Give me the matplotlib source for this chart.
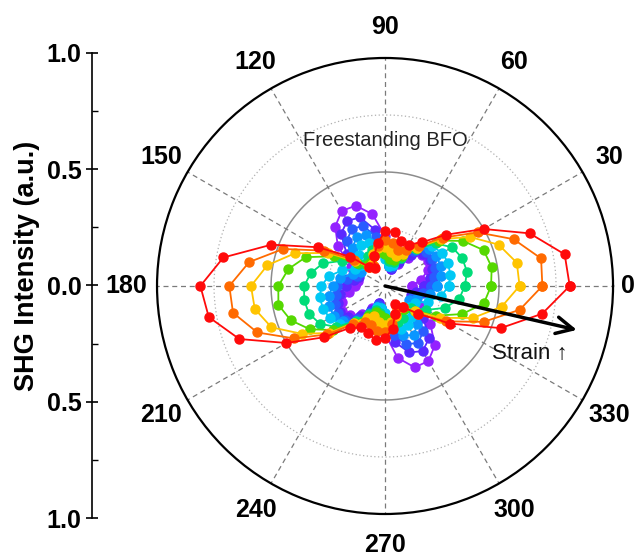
import numpy as np
import matplotlib.pyplot as plt

plt.rcParams['font.family'] = ['Arial', 'Liberation Sans', 'DejaVu Sans']

# polarization angle (deg), one point every 10 deg
phi_deg = np.arange(0, 360, 10)

# normalized SHG intensity, low strain (purple) -> high strain (red)
shg_purple = [0.12, 0.16, 0.20, 0.22, 0.21, 0.16, 0.11, 0.08, 0.12, 0.22, 0.32, 0.375, 0.38, 0.34, 0.27, 0.17, 0.13, 0.12,
              0.13, 0.16, 0.20, 0.22, 0.20, 0.16, 0.11, 0.08, 0.12, 0.21, 0.32, 0.38, 0.38, 0.34, 0.26, 0.17, 0.13, 0.12]
shg_violet = [0.17, 0.20, 0.22, 0.23, 0.22, 0.18, 0.12, 0.08, 0.09, 0.16, 0.25, 0.32, 0.33, 0.30, 0.22, 0.14, 0.12, 0.14,
              0.17, 0.20, 0.22, 0.23, 0.21, 0.17, 0.12, 0.08, 0.10, 0.17, 0.25, 0.31, 0.33, 0.30, 0.22, 0.14, 0.12, 0.14]
shg_blue = [0.20, 0.22, 0.235, 0.24, 0.235, 0.20, 0.14, 0.09, 0.09, 0.14, 0.22, 0.28, 0.29, 0.26, 0.19, 0.13, 0.13, 0.17,
            0.21, 0.22, 0.235, 0.24, 0.23, 0.19, 0.13, 0.09, 0.10, 0.15, 0.22, 0.27, 0.29, 0.26, 0.19, 0.13, 0.13, 0.17]
shg_azure = [0.23, 0.25, 0.26, 0.26, 0.25, 0.21, 0.15, 0.10, 0.09, 0.13, 0.19, 0.24, 0.25, 0.22, 0.16, 0.12, 0.15, 0.20,
             0.23, 0.25, 0.26, 0.26, 0.24, 0.20, 0.14, 0.10, 0.10, 0.13, 0.19, 0.23, 0.25, 0.22, 0.16, 0.12, 0.15, 0.20]
shg_cyan = [0.28, 0.29, 0.295, 0.29, 0.27, 0.22, 0.15, 0.10, 0.09, 0.12, 0.17, 0.20, 0.21, 0.18, 0.14, 0.15, 0.20, 0.25,
            0.28, 0.29, 0.29, 0.28, 0.26, 0.21, 0.15, 0.10, 0.10, 0.12, 0.17, 0.20, 0.20, 0.18, 0.14, 0.15, 0.20, 0.25]
shg_spring = [0.35, 0.365, 0.36, 0.34, 0.29, 0.21, 0.14, 0.11, 0.11, 0.14, 0.16, 0.17, 0.15, 0.13, 0.15, 0.22, 0.29, 0.33,
              0.355, 0.36, 0.355, 0.33, 0.28, 0.20, 0.14, 0.11, 0.12, 0.14, 0.16, 0.17, 0.16, 0.13, 0.15, 0.21, 0.28, 0.33]
shg_green = [0.465, 0.475, 0.46, 0.395, 0.31, 0.22, 0.15, 0.12, 0.12, 0.14, 0.15, 0.14, 0.12, 0.12, 0.16, 0.26, 0.37, 0.43,
             0.468, 0.475, 0.44, 0.38, 0.30, 0.21, 0.15, 0.12, 0.13, 0.14, 0.15, 0.14, 0.12, 0.13, 0.17, 0.26, 0.36, 0.44]
shg_gold = [0.59, 0.587, 0.53, 0.43, 0.32, 0.22, 0.16, 0.14, 0.15, 0.17, 0.17, 0.15, 0.11, 0.11, 0.17, 0.29, 0.42, 0.524,
            0.588, 0.58, 0.53, 0.42, 0.32, 0.21, 0.16, 0.14, 0.16, 0.17, 0.16, 0.14, 0.11, 0.12, 0.17, 0.28, 0.41, 0.52]
shg_orange = [0.69, 0.695, 0.60, 0.47, 0.33, 0.23, 0.18, 0.17, 0.19, 0.20, 0.18, 0.14, 0.10, 0.11, 0.18, 0.31, 0.475, 0.605,
              0.683, 0.677, 0.596, 0.46, 0.33, 0.22, 0.18, 0.18, 0.20, 0.20, 0.17, 0.13, 0.10, 0.12, 0.19, 0.31, 0.46, 0.60]
shg_red = [0.81, 0.80, 0.675, 0.50, 0.35, 0.25, 0.21, 0.21, 0.24, 0.24, 0.19, 0.14, 0.09, 0.11, 0.20, 0.34, 0.53, 0.72,
           0.81, 0.785, 0.68, 0.50, 0.35, 0.24, 0.21, 0.22, 0.24, 0.23, 0.19, 0.13, 0.09, 0.12, 0.19, 0.33, 0.54, 0.70]

series = [shg_purple, shg_violet, shg_blue, shg_azure, shg_cyan,
          shg_spring, shg_green, shg_gold, shg_orange, shg_red]
colors = ['#9422ff', '#5a28ff', '#2a5cff', '#0a96ff', '#00c8f5',
          '#00dc78', '#55d800', '#ffc400', '#ff6a00', '#ff0a0a']

angle_labels = [str(d) for d in range(0, 360, 30)]

fig = plt.figure(figsize=(6.38, 5.57), dpi=100)
ax = fig.add_axes([0.246, 0.0772, 0.715, 0.8187], projection='polar')

th = np.deg2rad(np.append(phi_deg, phi_deg[0]))
for vals, c in zip(series, colors):
    r = np.append(vals, vals[0])
    ax.plot(th, r, '-', color=c, lw=1.3, marker='o', ms=6.5, mec=c, mfc=c, zorder=3)

# grid: dashed spokes, dotted/solid rings
ax.grid(False)
ring = np.linspace(0, 2 * np.pi, 400)
ax.plot(ring, np.full_like(ring, 0.25), ls=(0, (1, 2)), color='#b0b0b0', lw=0.9, zorder=1)
ax.plot(ring, np.full_like(ring, 0.5), ls='-', color='#8c8c8c', lw=1.1, zorder=1)
ax.plot(ring, np.full_like(ring, 0.75), ls=(0, (1, 2)), color='#b0b0b0', lw=0.9, zorder=1)
for a in np.deg2rad(np.arange(0, 360, 30)):
    ax.plot([a, a], [0.03, 1], ls=(0, (4, 3)), color='#7a7a7a', lw=0.9, zorder=1)

ax.set_ylim(0, 1)
ax.set_yticks([])
ax.set_xticks(np.deg2rad(np.arange(0, 360, 30)))
ax.set_xticklabels([])
ax.set_xticks(np.deg2rad(np.arange(15, 360, 30)), minor=True)
ax.tick_params(axis='x', which='major', direction='in', length=8, width=1.3)
ax.tick_params(axis='x', which='minor', direction='in', length=5, width=1.0)
ax.spines['polar'].set_linewidth(1.6)

# angle labels around the rim
for d, lab in zip(range(0, 360, 30), angle_labels):
    rl = 1.065 if d == 0 else 1.135
    ax.text(np.deg2rad(d), rl, lab, ha='center', va='center', fontsize=18,
            fontweight='bold', clip_on=False)

ax.text(0.5, 0.818, 'Freestanding BFO', transform=ax.transAxes, ha='center', va='center',
        fontsize=14.5, color='#222222', zorder=5)

ax.annotate('', xy=(np.deg2rad(-12.9), 0.863), xytext=(0, 0),
            arrowprops=dict(arrowstyle='->', lw=2.5, color='black', mutation_scale=30, shrinkA=0, shrinkB=0),
            zorder=6)
ax.text(0.818, 0.351, 'Strain ↑', transform=ax.transAxes, ha='center', va='center',
        fontsize=16, color='#111111', zorder=6)

# linear intensity scale on the left
lax = fig.add_axes([0.144, 0.070, 0.01, 0.835])
lax.set_ylim(-1, 1)
lax.set_xticks([])
for s in ['top', 'right', 'bottom']:
    lax.spines[s].set_visible(False)
lax.spines['left'].set_linewidth(1.2)
lax.patch.set_alpha(0)
lax.set_yticks([-1, -0.5, 0, 0.5, 1])
lax.set_yticklabels(['1.0', '0.5', '0.0', '0.5', '1.0'], fontsize=18, fontweight='bold')
lax.set_yticks([-0.75, -0.25, 0.25, 0.75], minor=True)
lax.tick_params(axis='y', which='major', direction='inout', length=9, width=1.2, pad=3)
lax.tick_params(axis='y', which='minor', direction='in', length=4, width=1.0)
fig.text(27.5 / 638, 1 - 266 / 557, 'SHG Intensity (a.u.)', rotation=90, ha='center', va='center',
         fontsize=19.5, fontweight='bold')

fig.savefig('out.png', dpi=100)
